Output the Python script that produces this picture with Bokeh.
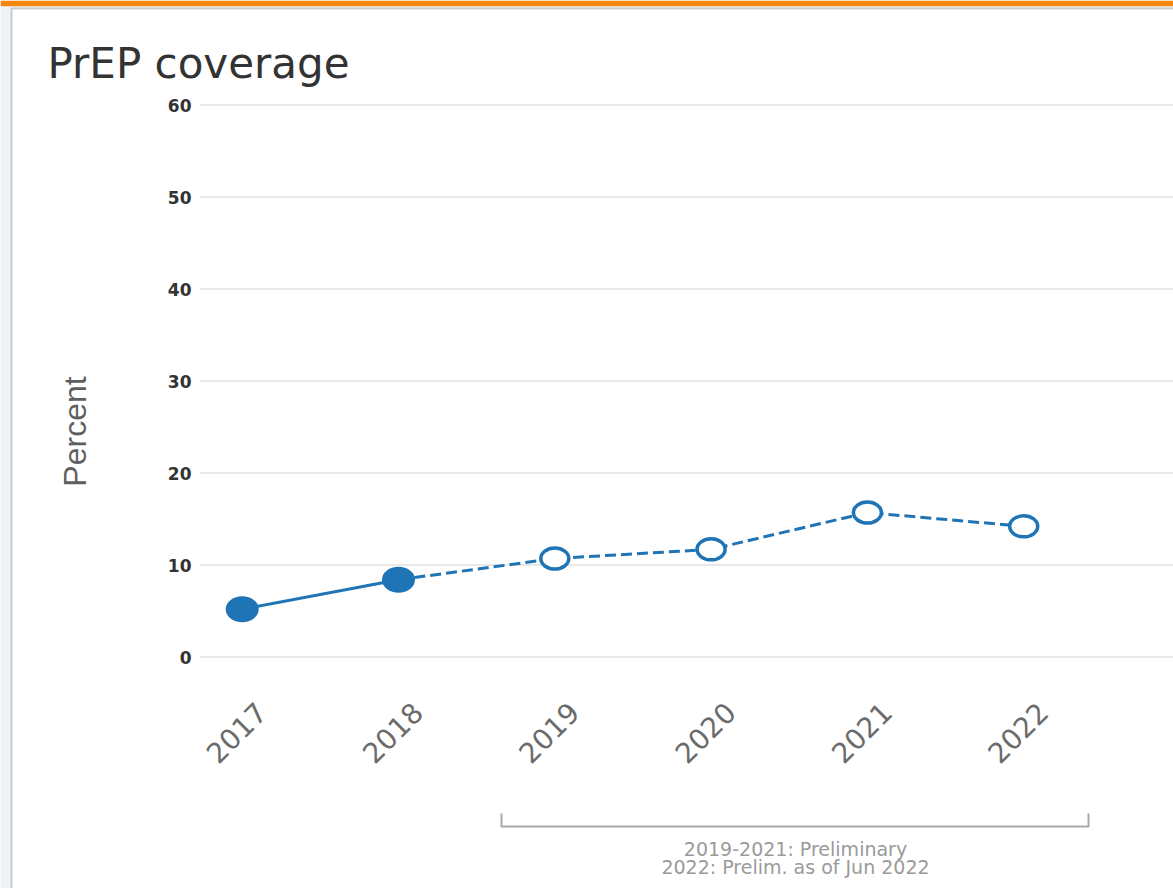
import math
from bokeh.plotting import figure
from bokeh.models import Range1d
from bokeh.embed import file_html
from bokeh.resources import INLINE
from bokeh.core.properties import value

# ---------------- data ----------------
years = [2017, 2018, 2019, 2020, 2021, 2022]
coverage = [5.2, 8.4, 10.7, 11.7, 15.7, 14.2]
is_final = [True, True, False, False, False, False]
y_ticks = [0, 10, 20, 30, 40, 50, 60]
title_text = "PrEP coverage"
y_label_text = "Percent"
note_lines = ["2019-2021: Preliminary", "2022: Prelim. as of Jun 2022"]

# ---------------- geometry (canvas pixels -> data) ----------------
W, H = 1173, 888
PX_PER_YEAR = 156.3
X_AT = 241.7          # canvas x of first year
PX_PER_UNIT = 9.2
Y_ZERO = 656.5        # canvas y of value 0
X_START = years[0] - X_AT / PX_PER_YEAR
X_END = X_START + W / PX_PER_YEAR
Y_TOP = Y_ZERO / PX_PER_UNIT
Y_BOTTOM = Y_TOP - H / PX_PER_UNIT


def cx(px):
    return X_START + px / PX_PER_YEAR


def cy(py):
    return Y_TOP - py / PX_PER_UNIT


BLUE = "#1f74b5"

p = figure(
    width=W, height=H,
    x_range=Range1d(X_START, X_END), y_range=Range1d(Y_BOTTOM, Y_TOP),
    x_axis_type=None, y_axis_type=None,
    output_backend="svg", toolbar_location=None,
    min_border=0, min_border_left=0, min_border_right=0,
    min_border_top=0, min_border_bottom=0,
    background_fill_color="white", border_fill_color="white",
    outline_line_color=None,
)
p.grid.visible = False

# ---- page chrome: orange bar and panel border ----
p.quad(left=[cx(0)], right=[cx(W)], top=[cy(0)], bottom=[cy(6)],
       fill_color="#f4870f", line_color=None)
p.quad(left=[cx(0)], right=[cx(W)], top=[cy(6)], bottom=[cy(H)],
       fill_color="#eef3f6", line_color=None)
p.quad(left=[cx(10)], right=[cx(W)], top=[cy(7)], bottom=[cy(H)],
       fill_color="#c9cccd", line_color=None)
p.quad(left=[cx(12)], right=[cx(W)], top=[cy(9)], bottom=[cy(H)],
       fill_color="white", line_color=None)

# ---- y grid + tick labels ----
grid_x0 = cx(200)
grid_x1 = cx(W)
p.segment(x0=[grid_x0] * len(y_ticks), y0=y_ticks, x1=[grid_x1] * len(y_ticks), y1=y_ticks,
          line_color="#e8e8e8", line_width=2)
p.text(x=[cx(191)] * len(y_ticks), y=y_ticks, text=[str(t) for t in y_ticks],
       text_font=value("DejaVu Sans"), text_font_style="bold", text_font_size="17px",
       text_color="#333333", text_align="right", text_baseline="middle")

# ---- x tick labels (rotated 45 deg) ----
p.text(x=years, y=[cy(732)] * len(years), text=[str(y) for y in years],
       x_offset=-6, angle=math.pi / 4,
       text_font=value("DejaVu Sans"), text_font_size="28px", text_color="#6b6b6b",
       text_align="center", text_baseline="middle")

# ---- series ----
n_final = sum(is_final)
p.line(years[:n_final], coverage[:n_final], line_color=BLUE, line_width=3)
p.line(years[n_final - 1:], coverage[n_final - 1:], line_color=BLUE, line_width=3,
       line_dash="11 5")

fx = [x for x, f in zip(years, is_final) if f]
fy = [y for y, f in zip(coverage, is_final) if f]
ox = [x for x, f in zip(years, is_final) if not f]
oy = [y for y, f in zip(coverage, is_final) if not f]
p.ellipse(x=fx, y=fy, width=31, height=24, width_units="screen", height_units="screen",
          fill_color=BLUE, line_color=BLUE, line_width=2)
p.ellipse(x=ox, y=oy, width=28, height=21, width_units="screen", height_units="screen",
          fill_color="white", line_color=BLUE, line_width=3.5)

# ---- title and axis title ----
p.text(x=[cx(47)], y=[cy(63)], text=[title_text], text_font=value("DejaVu Sans"),
       text_font_size="42px", text_color="#333333",
       text_align="left", text_baseline="alphabetic")
p.text(x=[cx(74)], y=[cy(431)], text=[y_label_text],
       text_font=value("Liberation Sans Narrow, Liberation Sans"),
       text_font_size="32px", text_color="#5f5f5f", angle=math.pi / 2,
       text_align="center", text_baseline="middle")

# ---- bracket for preliminary years + note ----
BR = "#a8a8a8"
p.line(x=[cx(501), cx(501), cx(1088), cx(1088)], y=[cy(813), cy(826), cy(826), cy(813)],
       line_color=BR, line_width=2)
p.text(x=[cx(795)] * len(note_lines), y=[cy(848), cy(866)], text=note_lines,
       text_font=value("DejaVu Sans"), text_font_size="19px", text_color="#9a9a9a",
       text_align="center", text_baseline="alphabetic")

open("out.html", "w").write(file_html(p, INLINE))
